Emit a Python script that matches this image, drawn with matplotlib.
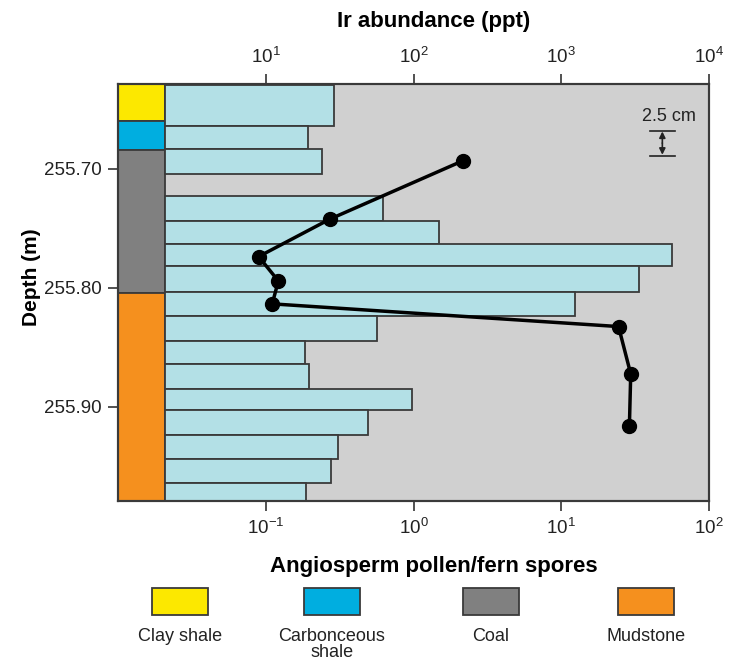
import matplotlib.pyplot as plt
import numpy as np

plt.rcParams['font.family'] = ['Liberation Sans', 'DejaVu Sans']
plt.rcParams['mathtext.fontset'] = 'custom'
plt.rcParams['mathtext.rm'] = 'Liberation Sans'

# Depth intervals of the pollen/spore samples (m)
sample_top = [255.629, 255.664, 255.683, 255.723, 255.744, 255.763, 255.782, 255.804,
              255.824, 255.845, 255.864, 255.885, 255.903, 255.924, 255.944, 255.964]
sample_bottom = [255.664, 255.683, 255.704, 255.744, 255.763, 255.782, 255.804, 255.824,
                 255.845, 255.864, 255.885, 255.903, 255.924, 255.944, 255.964, 255.980]
pollen_ratio = [0.29, 0.193, 0.238, 0.62, 1.48, 55.8, 33.7, 12.3,
                0.56, 0.184, 0.196, 0.97, 0.49, 0.305, 0.275, 0.185]

# Ir abundance
ir_depth = [255.6933, 255.7423, 255.7738, 255.7943, 255.8136, 255.8327, 255.8726, 255.9163]
ir_ppt = [214, 27, 8.9, 12.1, 11.0, 2440, 2950, 2890]

# Lithology column
litho_names = ["Clay shale", "Carbonceous\nshale", "Coal", "Mudstone"]
litho_top = [255.6285, 255.6594, 255.684, 255.8044]
litho_bottom = [255.6594, 255.684, 255.8044, 255.9795]
litho_colors = ["#FCE800", "#00AEE0", "#808080", "#F5901E"]

xmin_ratio = 0.01
litho_edge = 0.0206
edge = "#3a3a3a"

fig = plt.figure(figsize=(7.36, 6.61), dpi=100)
ax = fig.add_axes([0.161, 0.2421, 0.8023, 0.6309])
ax.set_facecolor("#D0D0D0")

# lithology column
ax.barh(litho_top, width=litho_edge - xmin_ratio, left=xmin_ratio,
        height=np.array(litho_bottom) - np.array(litho_top), align="edge",
        color=litho_colors, edgecolor=edge, linewidth=1.3, zorder=2)

# pollen/spore bars
ax.barh(sample_top, width=np.array(pollen_ratio) - litho_edge, left=litho_edge,
        height=np.array(sample_bottom) - np.array(sample_top), align="edge",
        color="#B3E0E6", edgecolor=edge, linewidth=1.3, zorder=2)

ax.set_xscale("log")
ax.set_xlim(0.01, 100)
ax.set_ylim(255.9795, 255.6285)
ax.set_xticks([0.1, 1, 10, 100])
ax.set_xticklabels([r"$\mathdefault{10^{-1}}$", r"$\mathdefault{10^{0}}$",
                    r"$\mathdefault{10^{1}}$", r"$\mathdefault{10^{2}}$"])
ax.xaxis.set_minor_locator(plt.NullLocator())
ax.set_yticks([255.70, 255.80, 255.90])
ax.set_yticklabels(["255.70", "255.80", "255.90"])
ax.tick_params(axis="both", direction="out", length=7, width=1.2, color="#333333",
               labelsize=13.5, labelcolor="#222222", pad=5)
ax.set_xlabel("Angiosperm pollen/fern spores", fontsize=16, fontweight="bold")
ax.xaxis.set_label_coords(0.534, -0.131)
ax.set_ylabel("Depth (m)", fontsize=15, fontweight="bold", va="center")
ax.yaxis.set_label_coords(-0.147, 0.537)

# Ir abundance on top axis
ax2 = ax.twiny()
ax2.set_xscale("log")
ax2.set_xlim(1, 1e4)
ax2.plot(ir_ppt, ir_depth, color="black", linewidth=2.5, marker="o",
         markersize=10, zorder=5)
ax2.set_xticks([10, 100, 1000, 10000])
ax2.set_xticklabels([r"$\mathdefault{10^{1}}$", r"$\mathdefault{10^{2}}$",
                     r"$\mathdefault{10^{3}}$", r"$\mathdefault{10^{4}}$"])
ax2.xaxis.set_minor_locator(plt.NullLocator())
ax2.tick_params(axis="x", direction="out", length=7, width=1.2, color="#333333",
                labelsize=13.5, labelcolor="#222222", pad=5)
ax2.set_xlabel("Ir abundance (ppt)", fontsize=16, fontweight="bold")
ax2.xaxis.set_label_coords(0.534, 1.136)

for a in (ax, ax2):
    for s in a.spines.values():
        s.set_color(edge)
        s.set_linewidth(1.5)

# 2.5 cm scale bar
tr = ax.get_yaxis_transform()
ax.plot([0.90, 0.942], [255.6678, 255.6678], color="#222222", lw=1.2, transform=tr, zorder=6)
ax.plot([0.90, 0.942], [255.6888, 255.6888], color="#222222", lw=1.2, transform=tr, zorder=6)
arrow = dict(arrowstyle="-|>", color="#222222", lw=1.2, mutation_scale=9,
             shrinkA=0, shrinkB=0)
ax.annotate("", xy=(0.921, 255.6685), xytext=(0.921, 255.6783), xycoords=tr,
            textcoords=tr, arrowprops=arrow, zorder=6)
ax.annotate("", xy=(0.921, 255.6881), xytext=(0.921, 255.6783), xycoords=tr,
            textcoords=tr, arrowprops=arrow, zorder=6)
ax.text(0.932, 255.663, "2.5 cm", transform=tr, ha="center", va="bottom",
        fontsize=13, color="#222222", zorder=6)

# legend
leg = fig.add_axes([0, 0, 1, 86 / 661])
leg.set_xlim(0, 736)
leg.set_ylim(661, 575)
leg.axis("off")
centers = [180, 332, 491, 646]
leg.bar(centers, height=27, bottom=588, width=56, color=litho_colors,
        edgecolor=edge, linewidth=1.3)
for c, name in zip(centers, litho_names):
    leg.text(c, 628, name, ha="center", va="top", fontsize=13, color="#222222",
             linespacing=0.92)

fig.savefig("out.png", dpi=100)
